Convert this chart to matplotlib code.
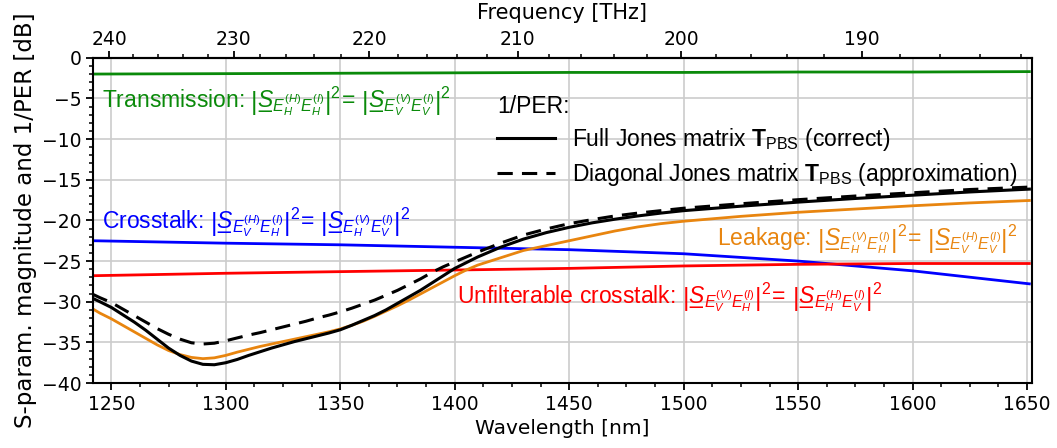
import numpy as np
import matplotlib
matplotlib.use('Agg')
import matplotlib.pyplot as plt
from matplotlib.ticker import MultipleLocator
from matplotlib.mathtext import MathTextParser

# ─── DATOS ────────────────────────────────────────────────────
wl = [1242, 1245, 1250, 1255, 1260, 1265, 1270, 1275, 1280, 1285, 1290, 1295,
      1300, 1305, 1310, 1315, 1320, 1325, 1330, 1335, 1340, 1345, 1350, 1355,
      1360, 1365, 1370, 1375, 1380, 1385, 1390, 1395, 1400, 1405, 1410, 1420,
      1430, 1440, 1450, 1460, 1470, 1480, 1490, 1500, 1525, 1550, 1575, 1600,
      1625, 1651]

per_full = [-29.6, -30.0, -30.7, -31.6, -32.5, -33.5, -34.6, -35.7, -36.6, -37.3,
            -37.7, -37.75, -37.5, -37.1, -36.6, -36.15, -35.7, -35.3, -34.9, -34.55,
            -34.2, -33.85, -33.45, -32.9, -32.3, -31.7, -31.0, -30.2, -29.4, -28.6,
            -27.7, -26.8, -25.9, -25.2, -24.5, -23.3, -22.3, -21.5, -20.85, -20.3,
            -19.85, -19.45, -19.1, -18.8, -18.25, -17.75, -17.3, -16.9, -16.5, -16.15]
per_diag = [-29.1, -29.5, -30.1, -30.9, -31.7, -32.5, -33.3, -34.0, -34.6, -35.05,
            -35.2, -35.1, -34.8, -34.45, -34.1, -33.8, -33.45, -33.1, -32.75, -32.4,
            -32.0, -31.65, -31.25, -30.8, -30.3, -29.8, -29.2, -28.6, -27.9, -27.2,
            -26.4, -25.7, -25.1, -24.5, -23.9, -22.8, -21.8, -21.05, -20.4, -19.9,
            -19.45, -19.1, -18.8, -18.5, -17.95, -17.45, -17.0, -16.6, -16.2, -15.9]
leakage = [-30.9, -31.4, -32.1, -32.9, -33.7, -34.5, -35.3, -36.0, -36.5, -36.85,
           -37.0, -36.9, -36.6, -36.2, -35.85, -35.5, -35.2, -34.9, -34.6, -34.3,
           -34.0, -33.7, -33.35, -32.9, -32.4, -31.8, -31.15, -30.5, -29.8, -29.05,
           -28.3, -27.55, -26.8, -26.1, -25.5, -24.6, -23.7, -23.1, -22.5, -21.9,
           -21.3, -20.8, -20.4, -20.1, -19.5, -19.0, -18.6, -18.2, -17.85, -17.55]

wl_flat = [1242, 1300, 1350, 1400, 1450, 1500, 1550, 1600, 1651]
transmission = [-2.0, -1.95, -1.9, -1.85, -1.8, -1.8, -1.75, -1.75, -1.7]
crosstalk = [-22.5, -22.8, -23.0, -23.3, -23.6, -24.1, -25.0, -26.2, -27.8]
unfilt = [-26.8, -26.5, -26.3, -26.1, -25.9, -25.6, -25.4, -25.3, -25.3]

freq_ticks = [240, 230, 220, 210, 200, 190]
C_NM_THZ = 299792.458

# ─── ESTILO ───────────────────────────────────────────────────
plt.rcParams['font.family'] = 'DejaVu Sans'
plt.rcParams['mathtext.fontset'] = 'custom'
plt.rcParams['mathtext.rm'] = 'Liberation Sans'
plt.rcParams['mathtext.it'] = 'Liberation Sans:italic'
plt.rcParams['mathtext.bf'] = 'Liberation Sans:bold'
plt.rcParams['mathtext.sf'] = 'Liberation Sans'

GREEN = '#0a8a0a'
BLUE = '#0000ff'
RED = '#ff0000'
ORANGE = '#e8850f'

# S subrayada: mathtext no tiene \underline, se monta con un guion bajo
S = None
for cand in (r'\underline{S}', r'S\hspace{-0.74}\_\hspace{0.07}', 'S\u0332'):
    try:
        MathTextParser('path').parse('$' + cand + '$', 72)
        S = cand
        break
    except Exception:
        pass
if S is None:
    S = 'S'


def formula(a, b, c, d, e, f, g, h):
    return (r'$\left|%s_{E_%s^{(%s)}E_%s^{(%s)}}\right|^2\!=\,'
            r'\left|%s_{E_%s^{(%s)}E_%s^{(%s)}}\right|^2$'
            % (S, a, b, c, d, S, e, f, g, h))


fig, ax = plt.subplots(figsize=(10.57, 4.48), dpi=100)
fig.subplots_adjust(left=0.088, right=0.976, bottom=0.145, top=0.871)

ax.plot(wl_flat, transmission, color=GREEN, lw=2)
ax.plot(wl_flat, crosstalk, color=BLUE, lw=2)
ax.plot(wl_flat, unfilt, color=RED, lw=2)
ax.plot(wl, leakage, color=ORANGE, lw=2)
l1, = ax.plot(wl, per_full, color='black', lw=2.2,
              label=r'Full Jones matrix $\mathbf{T}_{\mathrm{PBS}}$ (correct)')
l2, = ax.plot(wl, per_diag, color='black', lw=2.2, ls=(0, (5, 3)),
              label=r'Diagonal Jones matrix $\mathbf{T}_{\mathrm{PBS}}$ (approximation)')

ax.set_xlim(1242, 1652)
ax.set_ylim(-40, 0)
ax.xaxis.set_major_locator(MultipleLocator(50))
ax.xaxis.set_minor_locator(MultipleLocator(12.5))
ax.yaxis.set_major_locator(MultipleLocator(5))
ax.yaxis.set_minor_locator(MultipleLocator(1))
ax.grid(True, which='major', color='#cccccc', lw=1.2)
ax.set_axisbelow(True)
ax.tick_params(labelsize=13.5, width=1.3, length=5)
ax.tick_params(which='minor', width=1.1, length=3)
for sp in ax.spines.values():
    sp.set_linewidth(1.5)

ax.set_xlabel('Wavelength [nm]', fontsize=14.5, labelpad=4)
ax.set_ylabel('S-param. magnitude and 1/PER [dB]', fontsize=16.5, labelpad=3)

# eje superior en frecuencia
sec = ax.secondary_xaxis('top', functions=(lambda x: C_NM_THZ / x,
                                           lambda f: C_NM_THZ / f))
sec.set_xticks(freq_ticks)
sec.xaxis.set_minor_locator(MultipleLocator(2))
sec.tick_params(labelsize=13.5, width=1.3, length=5, pad=1)
sec.tick_params(which='minor', width=1.1, length=3)
sec.set_xlabel('Frequency [THz]', fontsize=15, labelpad=8)
sec.spines['top'].set_linewidth(1.5)

# anotaciones
tf = dict(fontsize=16.5, family='Liberation Sans', va='center')
ax.text(1246, -5.3, 'Transmission: ' + formula('H', 'H', 'H', 'I', 'V', 'V', 'V', 'I'),
        color=GREEN, ha='left', **tf)
ax.text(1246, -20.2, 'Crosstalk: ' + formula('V', 'H', 'H', 'I', 'H', 'V', 'V', 'I'),
        color=BLUE, ha='left', **tf)
ax.text(1646, -22.3, 'Leakage: ' + formula('H', 'V', 'H', 'I', 'V', 'H', 'V', 'I'),
        color=ORANGE, ha='right', **tf)
ax.text(1401, -29.5, 'Unfilterable crosstalk: ' + formula('V', 'V', 'H', 'I', 'H', 'H', 'V', 'I'),
        color=RED, ha='left', **tf)

leg = ax.legend(handles=[l1, l2], title='1/PER:', loc='upper left',
                bbox_to_anchor=(0.426, 0.90), frameon=False, alignment='left',
                prop={'family': 'Liberation Sans', 'size': 16.5},
                title_fontproperties={'family': 'Liberation Sans', 'size': 16.5},
                handlelength=2.5, handletextpad=0.75, labelspacing=0.35,
                borderaxespad=0, borderpad=0.2)

plt.savefig('out.png', dpi=100)
plt.close()
